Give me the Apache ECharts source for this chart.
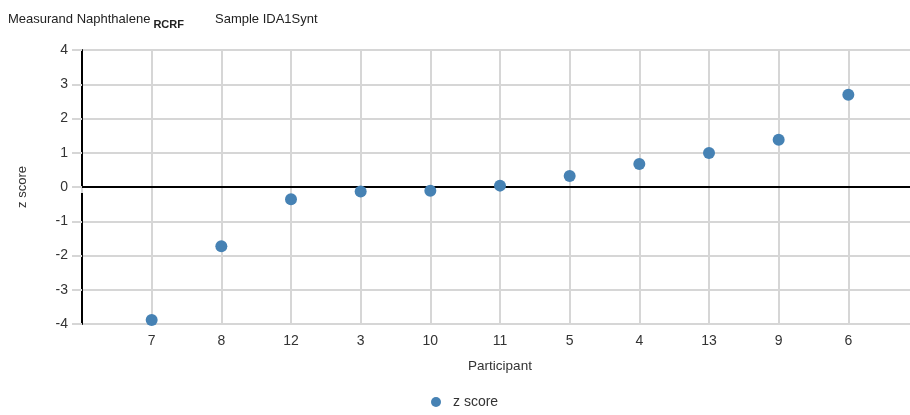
<!DOCTYPE html>
<html>
<head>
<meta charset="utf-8">
<script src="https://cdn.jsdelivr.net/npm/echarts@6/dist/echarts.min.js"></script>
<style>html,body{margin:0;padding:0;background:#fff}#c{width:910px;height:415px}</style>
</head>
<body>
<div id="c"></div>
<script>
var participants = ['7', '8', '12', '3', '10', '11', '5', '4', '13', '9', '6'];
var zScores = [-3.88, -1.73, -0.36, -0.13, -0.11, 0.04, 0.32, 0.67, 0.99, 1.38, 2.69];
var yTicks = [-4, -3, -2, -1, 0, 1, 2, 3, 4];

var cats = [''].concat(participants).concat(['']);
var pts = participants.map(function (p, i) { return [p, zScores[i]]; });

var font = '"Liberation Sans", Arial, sans-serif';
var chart = echarts.init(document.getElementById('c'));
chart.setOption({
  animation: false,
  textStyle: { fontFamily: font },
  title: [{
    left: 3, top: 8,
    text: '{a|Measurand Naphthalene}{s|RCRF}',
    textStyle: {
      fontWeight: 'normal',
      rich: {
        a: { fontSize: 13, color: '#222', fontFamily: font, fontWeight: 'normal', verticalAlign: 'top' },
        s: { fontSize: 11, color: '#222', fontFamily: font, fontWeight: 'bold', padding: [6, 0, 0, 3] }
      }
    }
  }, {
    left: 210, top: 8,
    text: 'Sample IDA1Synt',
    textStyle: { fontSize: 13, color: '#222', fontWeight: 'normal', fontFamily: font }
  }],
  grid: { left: 82, top: 50, right: -8, bottom: 91, containLabel: false, outerBoundsMode: 'none' },
  legend: {
    bottom: 1, left: 426,
    icon: 'circle', itemWidth: 10, itemHeight: 10, itemGap: 10,
    textStyle: { fontSize: 14, color: '#333', fontFamily: font, padding: [0, 0, 0, 7] },
    data: ['z score']
  },
  xAxis: {
    type: 'category', data: cats, boundaryGap: false,
    name: 'Participant', nameLocation: 'middle', nameGap: 35,
    nameTextStyle: { fontSize: 13.5, color: '#333', fontFamily: font },
    axisLine: { show: false },
    axisTick: { show: true, length: 6, lineStyle: { color: '#d6d6d6', width: 2 } },
    axisLabel: { fontSize: 14, color: '#333', margin: 10, fontFamily: font },
    splitLine: { show: true, lineStyle: { color: '#d6d6d6', width: 2 } }
  },
  yAxis: {
    type: 'value', min: -4, max: 4, interval: 1,
    name: 'z score', nameLocation: 'middle', nameGap: 53, nameRotate: 90,
    nameTextStyle: { fontSize: 13, color: '#333', fontFamily: font },
    axisLine: { show: true, onZero: false, lineStyle: { color: '#000', width: 2 } },
    axisTick: { show: true, length: 10, lineStyle: { color: '#d6d6d6', width: 2 } },
    axisLabel: { fontSize: 14, color: '#333', margin: 14, fontFamily: font,
      formatter: function (v) { return yTicks.indexOf(v) >= 0 ? String(v) : ''; } },
    splitLine: { show: true, lineStyle: { color: '#d6d6d6', width: 2 } }
  },
  series: [{
    name: 'z score', type: 'scatter', data: pts,
    symbolSize: 12,
    itemStyle: { color: '#4682b4', opacity: 1 },
    z: 5,
    markLine: {
      silent: true, symbol: ['none', 'none'], label: { show: false },
      lineStyle: { color: '#000', width: 2, type: 'solid' },
      data: [{ yAxis: 0 }],
      z: 3
    }
  }]
});
</script>
</body>
</html>
